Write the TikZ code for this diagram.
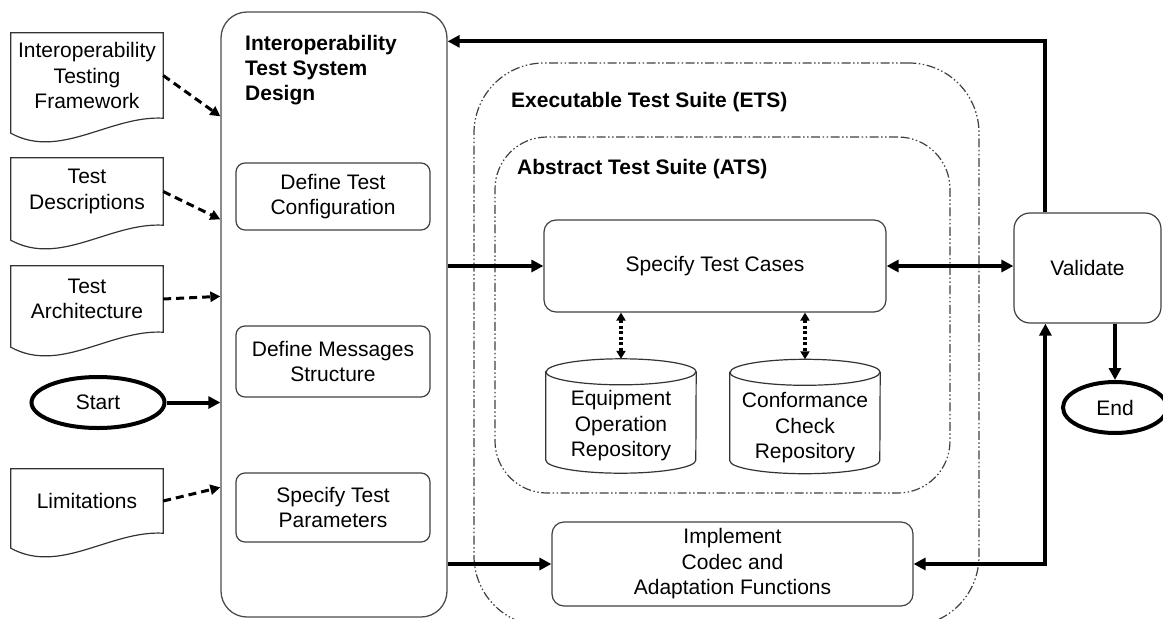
\documentclass[tikz,border=0pt]{standalone}
\usepackage{fontspec}
\setmainfont{Liberation Sans}
\usetikzlibrary{arrows.meta,calc,shapes.geometric}
\newcommand\docoutline[1]{%
  \draw[docline] (#1.north west) -- (#1.north east) -- (#1.south east)
    .. controls ($(#1.south east)+(-53,-3)$) and ($(#1.south west)+(49,42)$) .. ($(#1.south west)+(0,15)$) -- cycle;}
\newcommand\cyloutline[1]{%
  \draw[cylline] ($(#1.north west)+(0,13)$) -- ($(#1.south west)+(0,-13)$)
    arc[start angle=180,end angle=360,x radius=75pt,y radius=13pt]
    -- ($(#1.north east)+(0,13)$)
    arc[start angle=0,end angle=180,x radius=75pt,y radius=13pt] -- cycle;
  \draw[cylline] ($(#1.north west)+(0,13)$) arc[start angle=180,end angle=360,x radius=75pt,y radius=13pt];}
\begin{document}
\begin{tikzpicture}[x=1pt,y=-1pt,
  txt/.style={font=\fontsize{21}{25.5}\selectfont, align=center, inner sep=0pt},
  docnode/.style={txt, minimum width=152pt},
  docline/.style={draw=black!80, line width=1.2pt},
  mainbox/.style={draw=black!70, line width=1.3pt, rounded corners=26pt, inner sep=0pt},
  inbox/.style={txt, draw=black!75, line width=1.2pt, rounded corners=9pt},
  titletxt/.style={font=\fontsize{21}{25}\selectfont\bfseries, align=left, inner sep=0pt},
  suite/.style={draw=black!75, line width=1.2pt, inner sep=0pt,
     dash pattern=on 9pt off 2.5pt on 1.5pt off 2.5pt on 1.5pt off 2.5pt},
  cylnode/.style={minimum width=150pt, minimum height=114pt, inner sep=0pt},
  cylline/.style={draw=black!80, line width=1.2pt},
  oval/.style={txt, ellipse, draw=black, line width=4pt},
  thickarrow/.style={line width=4pt, -{Triangle[length=12pt,width=12pt]}},
  thickboth/.style={line width=4pt, {Triangle[length=12pt,width=12pt]}-{Triangle[length=12pt,width=12pt]}},
  dasharrow/.style={line width=3pt, dash pattern=on 8pt off 5pt, -{Triangle[length=10pt,width=10pt]}},
  dotboth/.style={line width=3.2pt, dash pattern=on 3pt off 2.5pt, {Triangle[length=8pt,width=9pt]}-{Triangle[length=8pt,width=9pt]}}
]
\useasboundingbox (0,0) rectangle (1163,619);
\clip (0,0) rectangle (1163,619);

% input documents
\node[docnode, minimum height=85pt] (itf) at (87,75.5) {Interoperability\\Testing\\Framework};
\node[docnode, minimum height=67pt] (td) at (87,191.5) {Test\\Descriptions};
\node[docnode, minimum height=66pt] (ta) at (87,299) {Test\\Architecture};
\node[docnode, minimum height=64pt] (lim) at (87,501) {Limitations};
\docoutline{itf}
\docoutline{td}
\docoutline{ta}
\docoutline{lim}

\node[oval, minimum width=133pt, minimum height=51pt] (start) at (98,402.5) {Start};

% main design box
\node[mainbox, minimum width=226pt, minimum height=605pt] (main) at (334,314.5) {};
\node[titletxt, anchor=north west] (mtitle) at (245,35) {Interoperability\\Test System\\Design};
\node[inbox, minimum width=194pt, minimum height=67pt] (dtc) at (333,196.5) {Define Test\\Configuration};
\node[inbox, minimum width=194pt, minimum height=71pt] (dms) at (333,361.5) {Define Messages\\Structure};
\node[inbox, minimum width=194pt, minimum height=69pt] (stp) at (333,507.5) {Specify Test\\Parameters};

% suites
\node[suite, rounded corners=70pt, minimum width=505pt, minimum height=563pt] (ets) at (726.5,344.5) {};
\node[suite, rounded corners=52pt, minimum width=455pt, minimum height=356pt] (ats) at (722.5,315) {};
\node[titletxt, anchor=base west] (etslbl) at (511,107) {Executable Test Suite (ETS)};
\node[titletxt, anchor=base west] (atslbl) at (517,174) {Abstract Test Suite (ATS)};

\node[inbox, rounded corners=12pt, minimum width=342pt, minimum height=92pt] (stc) at (715,266) {Specify Test Cases};

\node[cylnode] (eor) at (621,416) {};
\cyloutline{eor}
\node[txt] (eortxt) at (621,426) {Equipment\\Operation\\Repository};
\node[cylnode] (ccr) at (805,416.5) {};
\cyloutline{ccr}
\node[txt] (ccrtxt) at (805,428) {Conformance\\Check\\Repository};

\node[inbox, rounded corners=12pt, minimum width=361pt, minimum height=84pt] (imp) at (732.5,564) {Implement\\Codec and\\Adaptation Functions};

\node[inbox, rounded corners=16pt, minimum width=147pt, minimum height=110pt] (val) at (1087.5,268) {Validate};
\node[oval, minimum width=104pt, minimum height=51pt] (fin) at (1115,407.5) {End};

% coordinates on the main box border
\coordinate (m1) at ($(main.north west)+(0,105)$);
\coordinate (m2) at ($(main.north west)+(0,208)$);
\coordinate (m3) at ($(main.north west)+(0,285)$);
\coordinate (m4) at ($(main.north west)+(0,476)$);
\coordinate (mtop) at ($(main.north east)+(0,30)$);
\coordinate (vtop) at ($(val.north west)+(32,0)$);
\coordinate (vbot) at ($(val.south west)+(32,0)$);

% connectors
\draw[dasharrow] (itf.east) -- (m1);
\draw[dasharrow] (td.east) -- (m2);
\draw[dasharrow] (ta.east) -- (m3);
\draw[dasharrow] (lim.east) -- (m4);
\draw[thickarrow] (start.east) -- (start.east -| main.west);
\draw[thickarrow] (main.east |- stc.west) -- (stc.west);
\draw[thickarrow] (main.east |- imp.west) -- (imp.west);
\draw[thickboth] (stc.east) -- (stc.east -| val.west);
\draw[thickboth] (imp.east) -| (vbot);
\draw[thickarrow] (vtop) |- (mtop);
\draw[thickarrow] (fin.north |- val.south) -- (fin.north);
\draw[dotboth] (stc.south -| eor.north) -- (eor.north);
\draw[dotboth] (stc.south -| ccr.north) -- (ccr.north);
\end{tikzpicture}
\end{document}
